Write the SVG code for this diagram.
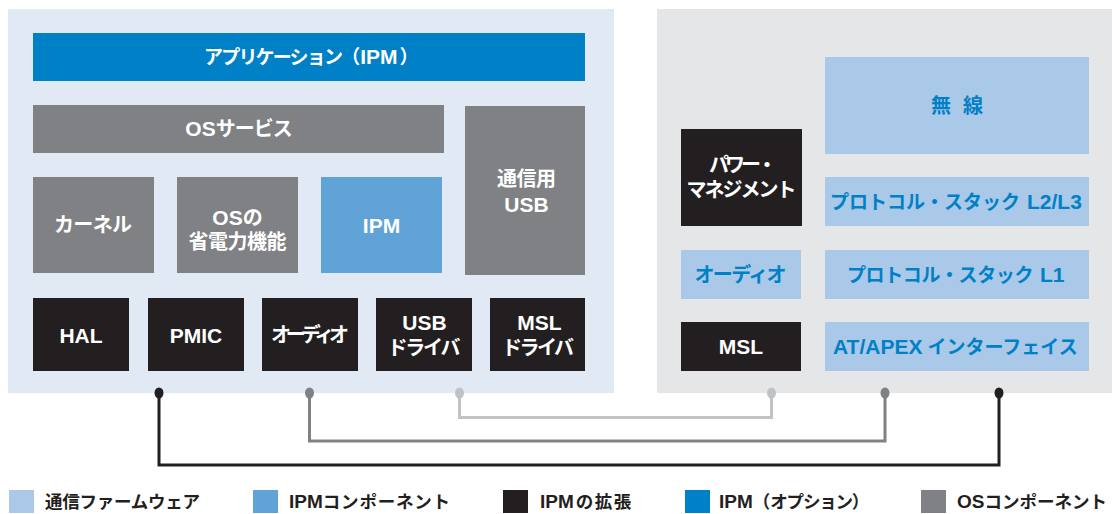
<svg xmlns="http://www.w3.org/2000/svg" width="1112" height="514" viewBox="0 0 1112 514">
<style>
text{font-family:"Noto Sans CJK JP","Liberation Sans",sans-serif;font-size:20px;font-weight:bold;text-anchor:middle}
.L{font-family:"Liberation Sans","Noto Sans CJK JP",sans-serif;font-weight:bold;font-size:21px}
.s19{font-size:19px}
.st{text-anchor:start}
.lg{fill:#231f20;text-anchor:start;font-size:17.5px}
.lg .L{font-size:19px}
.w{fill:#ffffff}
.b{fill:#0080c6}
.dk{fill:#0080c6}
.gy{fill:#808184}
.md{fill:#5fa3d7}
.lt{fill:#aac8e8}
.bk{fill:#231f20}
.con{fill:none;stroke-width:3}
</style>
<rect x="8" y="9" width="606" height="384" fill="#e1eaf4"/>
<rect x="657" y="9" width="455" height="384" fill="#e5e6e8"/>

<g id="app"><rect class="dk" x="33" y="33" width="552" height="48"/><text class="w st s19" x="204" y="64"><tspan letter-spacing="-1.8">アプリケーション</tspan>（<tspan class="L">IPM</tspan><tspan dx="2">）</tspan></text></g>
<g id="os-services"><rect class="gy" x="33" y="105" width="411" height="48"/><text class="w" x="238.5" y="136"><tspan class="L">OS</tspan><tspan letter-spacing="-1">サービス</tspan></text></g>
<g id="comm-usb"><rect class="gy" x="465" y="106" width="120" height="169"/><text class="w" x="526.5" y="186" textLength="59" lengthAdjust="spacing">通信用</text><text class="w L" x="526.5" y="211.5">USB</text></g>
<g id="kernel"><rect class="gy" x="33" y="177" width="121" height="96"/><text class="w" x="93" y="232" textLength="78" lengthAdjust="spacing">カーネル</text></g>
<g id="os-power"><rect class="gy" x="177" y="177" width="121" height="96"/><text class="w" x="237.5" y="224.5"><tspan class="L">OS</tspan>の</text><text class="w" x="237.5" y="248.5" textLength="98" lengthAdjust="spacing">省電力機能</text></g>
<g id="ipm"><rect class="md" x="321" y="177" width="121" height="96"/><text class="w L" x="381.5" y="232.5">IPM</text></g>
<g id="hal"><rect class="bk" x="33" y="298" width="96" height="73"/><text class="w L" x="81" y="342.5">HAL</text></g>
<g id="pmic"><rect class="bk" x="148" y="298" width="96" height="73"/><text class="w L" x="196" y="342.5">PMIC</text></g>
<g id="audio-l"><rect class="bk" x="262" y="298" width="96" height="73"/><text class="w" x="310" y="341.5" textLength="78" lengthAdjust="spacing">オーディオ</text></g>
<g id="usb-drv"><rect class="bk" x="376" y="298" width="96" height="73"/><text class="w L" x="424.5" y="330">USB</text><text class="w" x="424" y="355" textLength="73" lengthAdjust="spacing">ドライバ</text></g>
<g id="msl-drv"><rect class="bk" x="490" y="298" width="95" height="73"/><text class="w L" x="539.5" y="330">MSL</text><text class="w" x="538" y="355" textLength="72" lengthAdjust="spacing">ドライバ</text></g>

<g id="power-mgmt"><rect class="bk" x="681" y="129" width="121" height="97"/><text class="w" x="743" y="172" textLength="68" lengthAdjust="spacing">パワー・</text><text class="w" x="741.5" y="197" textLength="110" lengthAdjust="spacing">マネジメント</text></g>
<g id="radio"><rect class="lt" x="825" y="57" width="264" height="97"/><text class="b" x="957" y="112.5" textLength="52" lengthAdjust="spacing">無　線</text></g>
<g id="stack-l23"><rect class="lt" x="825" y="177" width="264" height="49"/><text class="b s19 st" x="830" y="208.5">プロトコル・スタック<tspan class="L" dx="7">L2/L3</tspan></text></g>
<g id="audio-r"><rect class="lt" x="681" y="250" width="120" height="49"/><text class="b" x="740.5" y="281.5" textLength="92" lengthAdjust="spacing">オーディオ</text></g>
<g id="stack-l1"><rect class="lt" x="825" y="250" width="264" height="49"/><text class="b s19 st" x="847" y="281.5"><tspan letter-spacing="-0.4">プロトコル・スタック</tspan><tspan class="L" dx="7">L1</tspan></text></g>
<g id="msl"><rect class="bk" x="681" y="322" width="120" height="49"/><text class="w L" x="741" y="354">MSL</text></g>
<g id="at-apex"><rect class="lt" x="825" y="322" width="264" height="49"/><text class="b s19 st" x="833" y="353.5"><tspan class="L" font-size="20">AT/APEX</tspan><tspan dx="5">インターフェイス</tspan></text></g>

<g id="connectors">
<path class="con" stroke="#231f20" d="M159 393V465H999V393"/>
<path class="con" stroke="#808184" d="M309.5 393V441H885V393"/>
<path class="con" stroke="#c1c2c5" d="M459.5 393V417.5H771.5V393"/>
<ellipse cx="159" cy="393" rx="4.5" ry="5.5" fill="#231f20"/>
<ellipse cx="999" cy="393" rx="4.5" ry="5.5" fill="#231f20"/>
<ellipse cx="309.5" cy="393" rx="4.5" ry="5.5" fill="#808184"/>
<ellipse cx="885" cy="393" rx="4.5" ry="5.5" fill="#808184"/>
<ellipse cx="459.5" cy="393" rx="4.5" ry="5.5" fill="#c1c2c5"/>
<ellipse cx="771.5" cy="393" rx="4.5" ry="5.5" fill="#c1c2c5"/>
</g>

<g id="legend">
<rect class="lt" x="9" y="490" width="25" height="23"/><text class="lg" x="45" y="508" textLength="155" lengthAdjust="spacing">通信ファームウェア</text>
<rect class="md" x="253" y="490" width="25" height="23"/><text class="lg" x="289" y="508"><tspan class="L">IPM</tspan><tspan letter-spacing="0.8">コンポーネント</tspan></text>
<rect class="bk" x="503" y="490" width="25" height="23"/><text class="lg" x="540" y="508"><tspan class="L">IPM</tspan><tspan dx="2" letter-spacing="1.5">の拡張</tspan></text>
<rect class="dk" x="685" y="490" width="25" height="23"/><text class="lg" x="719" y="508"><tspan class="L">IPM</tspan>（<tspan letter-spacing="-1.2">オプション</tspan>）</text>
<rect class="gy" x="921" y="490" width="25" height="23"/><text class="lg" x="957" y="508"><tspan class="L">OS</tspan>コンポーネント</text>
</g>
</svg>
